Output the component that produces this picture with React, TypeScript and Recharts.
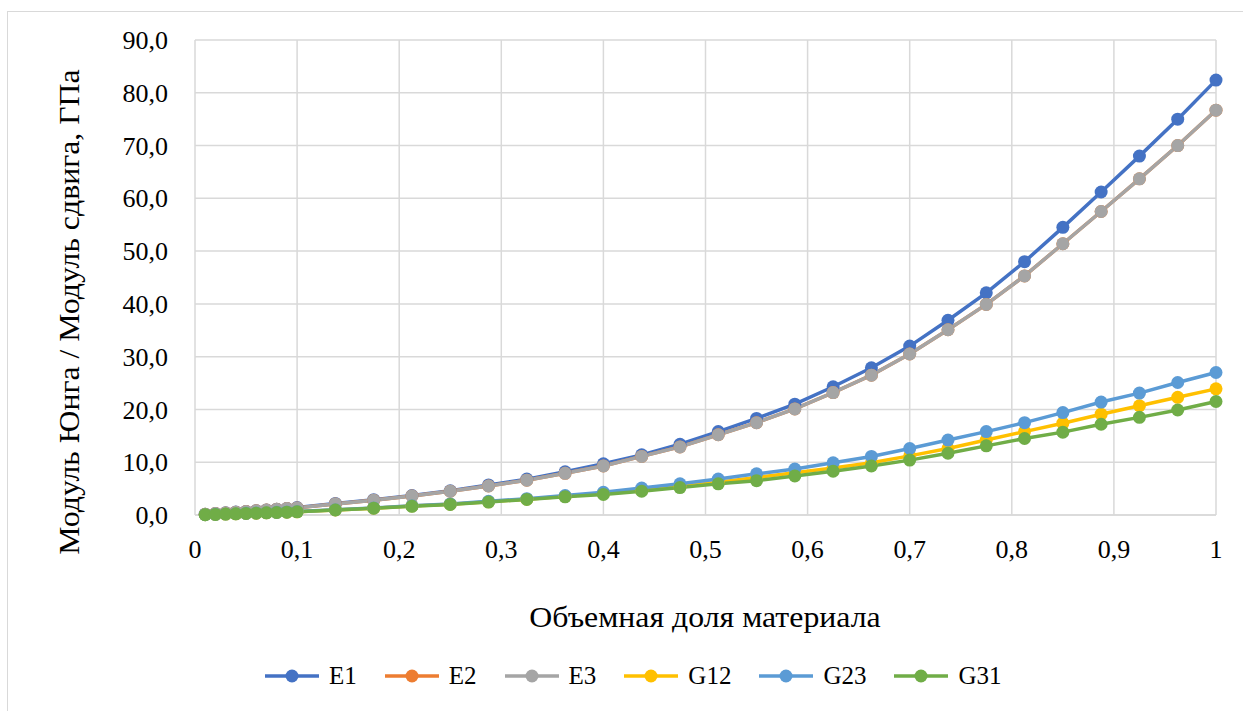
import { LineChart, Line, XAxis, YAxis, CartesianGrid } from "recharts"

// ------------------------------------------------------------------
// Data
// ------------------------------------------------------------------

const volumeFraction = [
    0.01, 0.02, 0.03, 0.04, 0.05, 0.06, 0.07, 0.08, 0.09, 0.1,
    0.1375, 0.175, 0.2125, 0.25, 0.2875, 0.325, 0.3625, 0.4, 0.4375, 0.475,
    0.5125, 0.55, 0.5875, 0.625, 0.6625, 0.7, 0.7375, 0.775, 0.8125, 0.85,
    0.8875, 0.925, 0.9625, 1,
]

const e1 = [
    0.15, 0.28, 0.42, 0.55, 0.68, 0.82, 0.96, 1.1, 1.25, 1.4,
    2.2, 2.9, 3.7, 4.6, 5.7, 6.8, 8.2, 9.7, 11.4, 13.4,
    15.8, 18.3, 21.0, 24.3, 27.9, 32.0, 36.9, 42.1, 48.0, 54.5,
    61.2, 68.0, 75.0, 82.4,
]

const e2 = [
    0.14, 0.27, 0.4, 0.53, 0.66, 0.8, 0.93, 1.07, 1.21, 1.35,
    2.1, 2.8, 3.6, 4.5, 5.5, 6.6, 7.9, 9.3, 11.1, 12.9,
    15.2, 17.5, 20.1, 23.2, 26.5, 30.5, 35.1, 39.9, 45.3, 51.4,
    57.5, 63.7, 70.0, 76.7,
]

const e3 = [
    0.14, 0.27, 0.4, 0.53, 0.66, 0.8, 0.93, 1.07, 1.21, 1.35,
    2.1, 2.8, 3.6, 4.5, 5.5, 6.6, 7.9, 9.3, 11.1, 12.9,
    15.2, 17.5, 20.1, 23.2, 26.5, 30.5, 35.1, 39.9, 45.3, 51.4,
    57.5, 63.7, 70.0, 76.7,
]

const g12 = [
    0.06, 0.11, 0.17, 0.23, 0.29, 0.35, 0.41, 0.47, 0.53, 0.6,
    0.95, 1.3, 1.7, 2.05, 2.5, 3.0, 3.55, 4.1, 4.7, 5.4,
    6.2, 7.1, 8.0, 8.9, 9.9, 11.2, 12.6, 14.2, 15.8, 17.4,
    19.1, 20.7, 22.3, 23.9,
]

const g23 = [
    0.07, 0.13, 0.19, 0.25, 0.32, 0.38, 0.45, 0.51, 0.58, 0.65,
    1.0, 1.35, 1.75, 2.1, 2.6, 3.1, 3.7, 4.3, 5.1, 5.9,
    6.8, 7.8, 8.7, 9.9, 11.1, 12.6, 14.2, 15.8, 17.5, 19.4,
    21.4, 23.1, 25.1, 27.0,
]

const g31 = [
    0.06, 0.11, 0.17, 0.23, 0.29, 0.35, 0.41, 0.47, 0.53, 0.6,
    0.95, 1.3, 1.65, 2.0, 2.45, 2.95, 3.45, 3.9, 4.5, 5.2,
    5.9, 6.5, 7.4, 8.3, 9.3, 10.4, 11.7, 13.1, 14.5, 15.7,
    17.2, 18.5, 19.9, 21.5,
]

const xTicks = [0, 0.1, 0.2, 0.3, 0.4, 0.5, 0.6, 0.7, 0.8, 0.9, 1]
const yTicks = [0, 10, 20, 30, 40, 50, 60, 70, 80, 90]

const series = [
    { key: "E1", values: e1, color: "#4472C4" },
    { key: "E2", values: e2, color: "#ED7D31" },
    { key: "E3", values: e3, color: "#A5A5A5" },
    { key: "G12", values: g12, color: "#FFC000" },
    { key: "G23", values: g23, color: "#5B9BD5" },
    { key: "G31", values: g31, color: "#70AD47" },
]

const data = volumeFraction.map((x, i) => {
    const row: Record<string, number> = { x }
    series.forEach((s) => {
        row[s.key] = s.values[i]
    })
    return row
})

const FONT = "'Liberation Serif', 'Times New Roman', serif"
const TICK_SIZE = 26
const TITLE_SIZE = 30
const GRID = "#d9d9d9"

// ------------------------------------------------------------------
// Ticks
// ------------------------------------------------------------------

function XTick({ x, y, payload }: any) {
    return (
        <text
            x={x}
            y={y + 37}
            textAnchor="middle"
            fontFamily={FONT}
            fontSize={TICK_SIZE}
            fill="#000"
        >
            {String(payload.value).replace(".", ",")}
        </text>
    )
}

function YTick({ x, y, payload }: any) {
    return (
        <text
            x={x - 21}
            y={y}
            dy="0.35em"
            textAnchor="end"
            fontFamily={FONT}
            fontSize={TICK_SIZE}
            fill="#000"
        >
            {Number(payload.value).toFixed(1).replace(".", ",")}
        </text>
    )
}

// ------------------------------------------------------------------
// Legend
// ------------------------------------------------------------------

function ChartLegend() {
    return (
        <div
            style={{
                position: "absolute",
                left: 265,
                top: 660,
                height: 32,
                display: "flex",
                alignItems: "center",
                fontFamily: FONT,
                fontSize: 25,
                color: "#000",
            }}
        >
            {series.map((s) => (
                <div key={s.key} style={{ display: "flex", alignItems: "center", marginRight: 28 }}>
                    <svg width={54} height={16}>
                        <line x1={0} y1={8} x2={54} y2={8} stroke={s.color} strokeWidth={3.5} />
                        <circle cx={27} cy={8} r={6.5} fill={s.color} />
                    </svg>
                    <span style={{ marginLeft: 10 }}>{s.key}</span>
                </div>
            ))}
        </div>
    )
}

// ------------------------------------------------------------------
// Chart
// ------------------------------------------------------------------

export default function App() {
    return (
        <div
            style={{
                position: "absolute",
                left: 0,
                top: 0,
                width: 1243,
                height: 711,
                background: "#fff",
                overflow: "hidden",
                fontFamily: FONT,
            }}
        >
            <div
                style={{
                    position: "absolute",
                    left: 7,
                    top: 11,
                    width: 1260,
                    height: 720,
                    borderLeft: `1.5px solid ${GRID}`,
                    borderTop: `1.5px solid ${GRID}`,
                }}
            />

            <div style={{ position: "absolute", left: 0, top: 0 }}>
                <LineChart
                    width={1243}
                    height={711}
                    data={data}
                    margin={{ top: 40, right: 27, left: 95, bottom: 136 }}
                >
                    <CartesianGrid stroke={GRID} strokeWidth={1.5} />

                    <XAxis
                        dataKey="x"
                        type="number"
                        domain={[0, 1]}
                        ticks={xTicks}
                        tickLine={false}
                        axisLine={{ stroke: GRID, strokeWidth: 1.5 }}
                        tick={<XTick />}
                        tickMargin={0}
                        height={60}
                        interval={0}
                    />

                    <YAxis
                        type="number"
                        domain={[0, 90]}
                        ticks={yTicks}
                        tickLine={false}
                        axisLine={false}
                        tick={<YTick />}
                        tickMargin={0}
                        width={100}
                        interval={0}
                    />

                    {series.map((s) => (
                        <Line
                            key={s.key}
                            type="linear"
                            dataKey={s.key}
                            stroke={s.color}
                            strokeWidth={3.5}
                            dot={{ r: 6.5, fill: s.color, stroke: s.color, strokeWidth: 0 }}
                            activeDot={false}
                            isAnimationActive={false}
                        />
                    ))}
                </LineChart>
            </div>

            {/* Axis titles */}
            <div
                style={{
                    position: "absolute",
                    left: 69,
                    top: 312,
                    transform: "translate(-50%, -50%) rotate(-90deg) scaleX(1.06)",
                    whiteSpace: "nowrap",
                    fontSize: TITLE_SIZE,
                    color: "#000",
                }}
            >
                Модуль Юнга / Модуль сдвига, ГПа
            </div>
            <div
                style={{
                    position: "absolute",
                    left: 705,
                    top: 617,
                    transform: "translate(-50%, -50%) scaleX(1.06)",
                    whiteSpace: "nowrap",
                    fontSize: TITLE_SIZE,
                    color: "#000",
                }}
            >
                Объемная доля материала
            </div>

            <ChartLegend />
        </div>
    )
}
